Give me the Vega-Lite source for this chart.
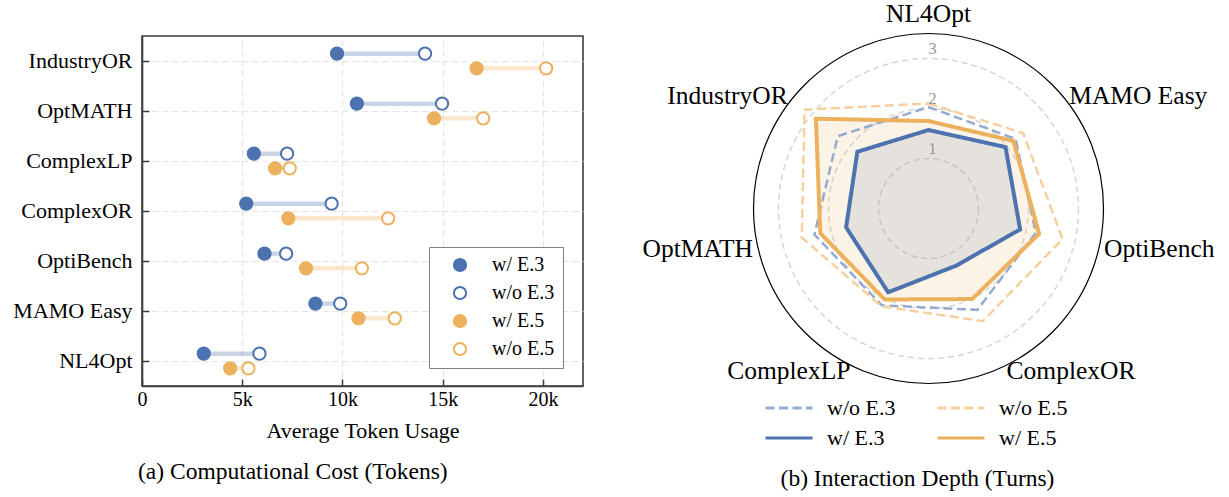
{
  "$schema": "https://vega.github.io/schema/vega-lite/v6.json",
  "background": "white",
  "padding": {"left": 12, "top": 1, "right": 5, "bottom": 2},
  "bounds": "flush",
  "spacing": 173,
  "config": {"font": "Liberation Serif", "view": {"stroke": null}},
  "datasets": {
    "tokens": [
      {"bench": "IndustryOR", "series": "w/ E.3", "group": "E.3", "tokens": 9730},
      {"bench": "IndustryOR", "series": "w/o E.3", "group": "E.3", "tokens": 14120},
      {"bench": "IndustryOR", "series": "w/ E.5", "group": "E.5", "tokens": 16690},
      {"bench": "IndustryOR", "series": "w/o E.5", "group": "E.5", "tokens": 20160},
      {"bench": "OptMATH", "series": "w/ E.3", "group": "E.3", "tokens": 10720},
      {"bench": "OptMATH", "series": "w/o E.3", "group": "E.3", "tokens": 14970},
      {"bench": "OptMATH", "series": "w/ E.5", "group": "E.5", "tokens": 14570},
      {"bench": "OptMATH", "series": "w/o E.5", "group": "E.5", "tokens": 17020},
      {"bench": "ComplexLP", "series": "w/ E.3", "group": "E.3", "tokens": 5580},
      {"bench": "ComplexLP", "series": "w/o E.3", "group": "E.3", "tokens": 7240},
      {"bench": "ComplexLP", "series": "w/ E.5", "group": "E.5", "tokens": 6640},
      {"bench": "ComplexLP", "series": "w/o E.5", "group": "E.5", "tokens": 7370},
      {"bench": "ComplexOR", "series": "w/ E.3", "group": "E.3", "tokens": 5200},
      {"bench": "ComplexOR", "series": "w/o E.3", "group": "E.3", "tokens": 9460},
      {"bench": "ComplexOR", "series": "w/ E.5", "group": "E.5", "tokens": 7300},
      {"bench": "ComplexOR", "series": "w/o E.5", "group": "E.5", "tokens": 12280},
      {"bench": "OptiBench", "series": "w/ E.3", "group": "E.3", "tokens": 6110},
      {"bench": "OptiBench", "series": "w/o E.3", "group": "E.3", "tokens": 7190},
      {"bench": "OptiBench", "series": "w/ E.5", "group": "E.5", "tokens": 8180},
      {"bench": "OptiBench", "series": "w/o E.5", "group": "E.5", "tokens": 10970},
      {"bench": "MAMO Easy", "series": "w/ E.3", "group": "E.3", "tokens": 8650},
      {"bench": "MAMO Easy", "series": "w/o E.3", "group": "E.3", "tokens": 9890},
      {"bench": "MAMO Easy", "series": "w/ E.5", "group": "E.5", "tokens": 10800},
      {"bench": "MAMO Easy", "series": "w/o E.5", "group": "E.5", "tokens": 12610},
      {"bench": "NL4Opt", "series": "w/ E.3", "group": "E.3", "tokens": 3080},
      {"bench": "NL4Opt", "series": "w/o E.3", "group": "E.3", "tokens": 5860},
      {"bench": "NL4Opt", "series": "w/ E.5", "group": "E.5", "tokens": 4400},
      {"bench": "NL4Opt", "series": "w/o E.5", "group": "E.5", "tokens": 5310}
    ],
    "turns": [
      {"bench": "NL4Opt", "series": "w/o E.3", "turns": 2.03},
      {"bench": "MAMO Easy", "series": "w/o E.3", "turns": 2.23},
      {"bench": "OptiBench", "series": "w/o E.3", "turns": 2.20},
      {"bench": "ComplexOR", "series": "w/o E.3", "turns": 2.25},
      {"bench": "ComplexLP", "series": "w/o E.3", "turns": 2.15},
      {"bench": "OptMATH", "series": "w/o E.3", "turns": 2.34},
      {"bench": "IndustryOR", "series": "w/o E.3", "turns": 2.32},
      {"bench": "NL4Opt", "series": "w/o E.5", "turns": 2.10},
      {"bench": "MAMO Easy", "series": "w/o E.5", "turns": 2.42},
      {"bench": "OptiBench", "series": "w/o E.5", "turns": 2.75},
      {"bench": "ComplexOR", "series": "w/o E.5", "turns": 2.50},
      {"bench": "ComplexLP", "series": "w/o E.5", "turns": 2.17},
      {"bench": "OptMATH", "series": "w/o E.5", "turns": 2.60},
      {"bench": "IndustryOR", "series": "w/o E.5", "turns": 3.17},
      {"bench": "NL4Opt", "series": "w/ E.3", "turns": 1.57},
      {"bench": "MAMO Easy", "series": "w/ E.3", "turns": 1.97},
      {"bench": "OptiBench", "series": "w/ E.3", "turns": 1.88},
      {"bench": "ComplexOR", "series": "w/ E.3", "turns": 1.27},
      {"bench": "ComplexLP", "series": "w/ E.3", "turns": 1.86},
      {"bench": "OptMATH", "series": "w/ E.3", "turns": 1.69},
      {"bench": "IndustryOR", "series": "w/ E.3", "turns": 1.82},
      {"bench": "NL4Opt", "series": "w/ E.5", "turns": 1.75},
      {"bench": "MAMO Easy", "series": "w/ E.5", "turns": 2.17},
      {"bench": "OptiBench", "series": "w/ E.5", "turns": 2.27},
      {"bench": "ComplexOR", "series": "w/ E.5", "turns": 2.01},
      {"bench": "ComplexLP", "series": "w/ E.5", "turns": 2.02},
      {"bench": "OptMATH", "series": "w/ E.5", "turns": 2.22},
      {"bench": "IndustryOR", "series": "w/ E.5", "turns": 2.88}
    ],
    "rings": [{"r": 1}, {"r": 2}, {"r": 3}]
  },
  "resolve": {
    "scale": {"color": "independent", "fill": "independent", "stroke": "independent", "strokeDash": "independent", "size": "independent", "x": "independent", "y": "independent"},
    "legend": {"color": "independent", "fill": "independent", "stroke": "independent", "strokeDash": "independent"}
  },
  "hconcat": [
    {
      "width": 441,
      "height": 350,
      "view": {"stroke": "#3c3c3c", "strokeWidth": 1.6},
      "title": {"text": "(a) Computational Cost (Tokens)", "orient": "bottom", "anchor": "start", "frame": "group", "dx": -4, "offset": 19, "fontSize": 23.5, "fontWeight": "normal", "color": "black"},
      "data": {"name": "tokens"},
      "encoding": {
        "y": {
          "field": "bench", "type": "nominal",
          "sort": ["IndustryOR", "OptMATH", "ComplexLP", "ComplexOR", "OptiBench", "MAMO Easy", "NL4Opt"],
          "scale": {"type": "band", "paddingInner": 0, "paddingOuter": 0},
          "axis": {"title": null, "labelFontSize": 22, "labelColor": "black", "labelLimit": 300, "tickSize": -7, "tickColor": "#3c3c3c", "tickWidth": 1.5, "labelPadding": 17, "domainColor": "#3c3c3c", "domainWidth": 1.6, "grid": true, "gridColor": "#e4e4e4", "gridDash": [6, 4], "gridWidth": 1.2, "tickBand": "center"}
        },
        "yOffset": {"field": "group", "type": "nominal", "scale": {"domain": ["E.3", "E.5"], "paddingInner": 0, "paddingOuter": 0.7}}
      },
      "layer": [
        {
          "mark": {"type": "rule", "strokeWidth": 4.5, "opacity": 0.3},
          "encoding": {
            "x": {"aggregate": "min", "field": "tokens", "type": "quantitative",
              "scale": {"domain": [0, 22000], "nice": false, "zero": false},
              "axis": {"title": "Average Token Usage", "titleFontSize": 22, "titleFontWeight": "normal", "titleColor": "black", "titlePadding": 11, "values": [0, 5000, 10000, 15000, 20000], "labelExpr": "datum.value == 0 ? '0' : (datum.value / 1000) + 'k'", "labelFontSize": 20, "labelColor": "black", "labelFlush": false, "tickSize": -7, "tickColor": "#3c3c3c", "tickWidth": 1.5, "labelPadding": 10, "domainColor": "#3c3c3c", "domainWidth": 1.6, "grid": true, "gridColor": "#e4e4e4", "gridDash": [6, 4], "gridWidth": 1.2}},
            "x2": {"aggregate": "max", "field": "tokens"},
            "color": {"field": "group", "type": "nominal", "scale": {"domain": ["E.3", "E.5"], "range": ["#4C72B0", "#EDB15E"]}, "legend": null}
          }
        },
        {
          "mark": {"type": "point", "shape": "circle", "size": 150, "strokeWidth": 2, "opacity": 1},
          "encoding": {
            "x": {"field": "tokens", "type": "quantitative"},
            "fill": {"field": "series", "type": "nominal", "scale": {"domain": ["w/ E.3", "w/o E.3", "w/ E.5", "w/o E.5"], "range": ["#4C72B0", "white", "#EDB15E", "white"]},
              "legend": {"title": null, "orient": "none", "legendX": 287, "legendY": 211, "strokeColor": "#808080", "fillColor": "white", "padding": 8, "cornerRadius": 0, "labelFontSize": 20, "labelColor": "black", "symbolSize": 150, "symbolStrokeWidth": 2, "symbolOffset": 13, "labelOffset": 22, "rowPadding": 6}},
            "stroke": {"field": "series", "type": "nominal", "scale": {"domain": ["w/ E.3", "w/o E.3", "w/ E.5", "w/o E.5"], "range": ["#4C72B0", "#4C72B0", "#EDB15E", "#EDB15E"]},
              "legend": {"title": null, "orient": "none", "legendX": 287, "legendY": 211, "strokeColor": "#808080", "fillColor": "white", "padding": 8, "cornerRadius": 0, "labelFontSize": 20, "labelColor": "black", "symbolSize": 150, "symbolStrokeWidth": 2, "symbolOffset": 13, "labelOffset": 22, "rowPadding": 6}}
          }
        }
      ]
    },
    {
      "width": 345,
      "height": 345,
      "view": {"stroke": null},
      "title": {"text": "(b) Interaction Depth (Turns)", "orient": "bottom", "anchor": "middle", "frame": "group", "dx": -11, "offset": 18, "fontSize": 23.5, "fontWeight": "normal", "color": "black"},
      "layer": [
        {
          "data": {"name": "rings"},
          "mark": {"type": "point", "shape": "circle", "filled": false, "stroke": "#d6d6d6", "strokeWidth": 1.5, "strokeDash": [6, 4], "opacity": 1},
          "encoding": {
            "x": {"datum": 0, "type": "quantitative", "scale": {"domain": [-3.45, 3.45], "nice": false, "zero": false}, "axis": null},
            "y": {"datum": 0, "type": "quantitative", "scale": {"domain": [-3.45, 3.45], "nice": false, "zero": false}, "axis": null},
            "size": {"field": "r", "type": "quantitative", "scale": {"type": "pow", "exponent": 2, "domain": [0, 3.5], "range": [0, 122500], "nice": false, "zero": true}, "legend": null}
          }
        },
        {
          "data": {"values": [{"r": 3.5}]},
          "mark": {"type": "point", "shape": "circle", "filled": false, "stroke": "black", "strokeWidth": 1.2, "opacity": 1},
          "encoding": {
            "x": {"datum": 0, "type": "quantitative"},
            "y": {"datum": 0, "type": "quantitative"},
            "size": {"field": "r", "type": "quantitative", "legend": null}
          }
        },
        {
          "data": {"name": "turns"},
          "transform": [
            {"filter": "datum.series == 'w/ E.3' || datum.series == 'w/ E.5'"},
            {"calculate": "indexof(['NL4Opt','MAMO Easy','OptiBench','ComplexOR','ComplexLP','OptMATH','IndustryOR'], datum.bench)", "as": "idx"},
            {"calculate": "datum.turns * sin(2 * PI * datum.idx / 7)", "as": "px"},
            {"calculate": "datum.turns * cos(2 * PI * datum.idx / 7)", "as": "py"}
          ],
          "mark": {"type": "line", "interpolate": "linear-closed", "filled": true, "fillOpacity": 0.15, "strokeWidth": 0},
          "encoding": {
            "x": {"field": "px", "type": "quantitative"},
            "y": {"field": "py", "type": "quantitative"},
            "order": {"field": "idx", "type": "quantitative"},
            "fill": {"field": "series", "type": "nominal", "scale": {"domain": ["w/ E.5", "w/ E.3"], "range": ["#EDB15E", "#4C72B0"]}, "legend": null}
          }
        },
        {
          "data": {"name": "turns"},
          "transform": [
            {"filter": "datum.series == 'w/o E.3' || datum.series == 'w/o E.5'"},
            {"calculate": "indexof(['NL4Opt','MAMO Easy','OptiBench','ComplexOR','ComplexLP','OptMATH','IndustryOR'], datum.bench)", "as": "idx"},
            {"calculate": "datum.turns * sin(2 * PI * datum.idx / 7)", "as": "px"},
            {"calculate": "datum.turns * cos(2 * PI * datum.idx / 7)", "as": "py"}
          ],
          "mark": {"type": "line", "interpolate": "linear-closed", "strokeJoin": "miter", "strokeWidth": 2.5},
          "encoding": {
            "x": {"field": "px", "type": "quantitative"},
            "y": {"field": "py", "type": "quantitative"},
            "order": {"field": "idx", "type": "quantitative"},
            "color": {"field": "series", "type": "nominal",
              "scale": {"domain": ["w/o E.3", "w/ E.3", "w/o E.5", "w/ E.5"], "range": ["#94AAD0", "#4C72B0", "#F4D09E", "#EDB15E"]},
              "legend": {"title": null, "orient": "none", "legendX": 8, "legendY": 361, "columns": 2, "symbolType": "stroke", "symbolSize": 2209, "symbolStrokeWidth": 3, "clipHeight": 22, "labelFontSize": 22, "labelColor": "black", "rowPadding": 8, "columnPadding": 40, "labelOffset": 13}},
            "strokeDash": {"field": "series", "type": "nominal",
              "scale": {"domain": ["w/o E.3", "w/ E.3", "w/o E.5", "w/ E.5"], "range": [[9, 4.5], [1, 0], [9, 4.5], [1, 0]]},
              "legend": {"title": null, "orient": "none", "legendX": 8, "legendY": 361, "columns": 2, "symbolType": "stroke", "symbolSize": 2209, "symbolStrokeWidth": 3, "clipHeight": 22, "labelFontSize": 22, "labelColor": "black", "rowPadding": 8, "columnPadding": 40, "labelOffset": 13}}
          }
        },
        {
          "data": {"name": "turns"},
          "transform": [
            {"filter": "datum.series == 'w/ E.3' || datum.series == 'w/ E.5'"},
            {"calculate": "indexof(['NL4Opt','MAMO Easy','OptiBench','ComplexOR','ComplexLP','OptMATH','IndustryOR'], datum.bench)", "as": "idx"},
            {"calculate": "datum.turns * sin(2 * PI * datum.idx / 7)", "as": "px"},
            {"calculate": "datum.turns * cos(2 * PI * datum.idx / 7)", "as": "py"}
          ],
          "mark": {"type": "line", "interpolate": "linear-closed", "strokeJoin": "miter", "strokeWidth": 4},
          "encoding": {
            "x": {"field": "px", "type": "quantitative"},
            "y": {"field": "py", "type": "quantitative"},
            "order": {"field": "idx", "type": "quantitative"},
            "color": {"field": "series", "type": "nominal"},
            "strokeDash": {"field": "series", "type": "nominal"}
          }
        },
        {
          "data": {"name": "rings"},
          "mark": {"type": "text", "color": "#999999", "fontSize": 17, "dx": 4, "dy": -9.5, "baseline": "middle", "align": "center"},
          "encoding": {
            "x": {"datum": 0, "type": "quantitative"},
            "y": {"field": "r", "type": "quantitative"},
            "text": {"field": "r", "type": "quantitative", "format": "d"}
          }
        },
        {
          "data": {"name": "turns"},
          "transform": [
            {"filter": "datum.series == 'w/ E.3' && datum.bench == 'NL4Opt'"},
            {"calculate": "indexof(['NL4Opt','MAMO Easy','OptiBench','ComplexOR','ComplexLP','OptMATH','IndustryOR'], datum.bench)", "as": "idx"},
            {"calculate": "3.6 * sin(2 * PI * datum.idx / 7)", "as": "lx"},
            {"calculate": "3.6 * cos(2 * PI * datum.idx / 7)", "as": "ly"}
          ],
          "mark": {"type": "text", "fontSize": 25.5, "color": "black", "align": "center", "baseline": "alphabetic", "dy": -7},
          "encoding": {
            "x": {"field": "lx", "type": "quantitative"},
            "y": {"field": "ly", "type": "quantitative"},
            "text": {"field": "bench"}
          }
        },
        {
          "data": {"name": "turns"},
          "transform": [
            {"filter": "datum.series == 'w/ E.3' && indexof(['MAMO Easy','OptiBench','ComplexOR'], datum.bench) >= 0"},
            {"calculate": "indexof(['NL4Opt','MAMO Easy','OptiBench','ComplexOR','ComplexLP','OptMATH','IndustryOR'], datum.bench)", "as": "idx"},
            {"calculate": "3.6 * sin(2 * PI * datum.idx / 7)", "as": "lx"},
            {"calculate": "3.6 * cos(2 * PI * datum.idx / 7)", "as": "ly"}
          ],
          "mark": {"type": "text", "fontSize": 25.5, "color": "black", "align": "left", "baseline": "middle"},
          "encoding": {
            "x": {"field": "lx", "type": "quantitative"},
            "y": {"field": "ly", "type": "quantitative"},
            "text": {"field": "bench"}
          }
        },
        {
          "data": {"name": "turns"},
          "transform": [
            {"filter": "datum.series == 'w/ E.3' && indexof(['ComplexLP','OptMATH','IndustryOR'], datum.bench) >= 0"},
            {"calculate": "indexof(['NL4Opt','MAMO Easy','OptiBench','ComplexOR','ComplexLP','OptMATH','IndustryOR'], datum.bench)", "as": "idx"},
            {"calculate": "3.6 * sin(2 * PI * datum.idx / 7)", "as": "lx"},
            {"calculate": "3.6 * cos(2 * PI * datum.idx / 7)", "as": "ly"}
          ],
          "mark": {"type": "text", "fontSize": 25.5, "color": "black", "align": "right", "baseline": "middle"},
          "encoding": {
            "x": {"field": "lx", "type": "quantitative"},
            "y": {"field": "ly", "type": "quantitative"},
            "text": {"field": "bench"}
          }
        }
      ]
    }
  ]
}
